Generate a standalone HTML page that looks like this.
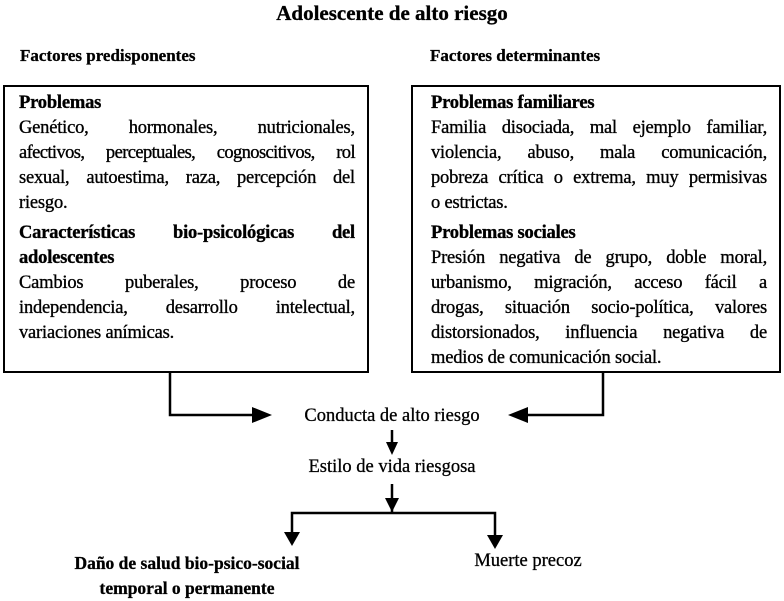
<!DOCTYPE html>
<html><head><meta charset="utf-8"><style>
body{margin:0;width:784px;height:601px;background:#fff;position:relative;font-family:"Liberation Serif",serif;color:#000;overflow:hidden}
.t{position:absolute;white-space:nowrap;-webkit-text-stroke:0.3px #000}
.b{font-weight:bold}
.box{position:absolute;border:2px solid #000;box-sizing:border-box;padding:4px 12px 0 14px;font-size:18.5px;line-height:25px;-webkit-text-stroke:0.35px #000;letter-spacing:-0.2px}
.box div{white-space:nowrap;text-align:justify;text-align-last:justify;height:25px}
.box div.l{text-align-last:left}
.h{font-weight:bold}
.gap{margin-top:5px}
</style></head><body>
<div class="t b" style="left:0;width:784px;text-align:center;top:1px;font-size:21px">Adolescente de alto riesgo</div>
<div class="t b" style="left:20px;top:46px;font-size:17px">Factores predisponentes</div>
<div class="t b" style="left:430px;top:46px;font-size:17px">Factores determinantes</div>
<div class="box" style="left:3px;top:85px;width:366px;height:288px">
<div class="h l">Problemas</div>
<div>Genético, hormonales, nutricionales,</div>
<div style="letter-spacing:-0.6px;word-spacing:-2px">afectivos, perceptuales, cognoscitivos, rol</div>
<div>sexual, autoestima, raza, percepción del</div>
<div class="l">riesgo.</div>
<div class="h gap">Características bio-psicológicas del</div>
<div class="h l">adolescentes</div>
<div>Cambios puberales, proceso de</div>
<div>independencia, desarrollo intelectual,</div>
<div class="l">variaciones anímicas.</div>
</div>
<div class="box" style="left:411px;top:85px;width:370px;height:288px;padding-left:18px">
<div class="h l">Problemas familiares</div>
<div>Familia disociada, mal ejemplo familiar,</div>
<div>violencia, abuso, mala comunicación,</div>
<div>pobreza crítica o extrema, muy permisivas</div>
<div class="l">o estrictas.</div>
<div class="h gap l">Problemas sociales</div>
<div>Presión negativa de grupo, doble moral,</div>
<div>urbanismo, migración, acceso fácil a</div>
<div>drogas, situación socio-política, valores</div>
<div>distorsionados, influencia negativa de</div>
<div class="l">medios de comunicación social.</div>
</div>
<svg width="784" height="601" style="position:absolute;left:0;top:0">
<g stroke="#000" stroke-width="2.5" fill="none">
<polyline points="170,373 170,415 255,415"/>
<polyline points="603,373 603,415 525,415"/>
<line x1="392" y1="430" x2="392" y2="445"/>
<line x1="392" y1="484" x2="392" y2="512"/>
<polyline points="292,540 292,513 495,513 495,545"/>
</g>
<g fill="#000">
<polygon points="252,407 272,415 252,423"/>
<polygon points="528,407 508,415 528,423"/>
<polygon points="386,442 392,455 398,442"/>
<polygon points="385,498 392,512 399,498"/>
<polygon points="284,532 292,546 300,532"/>
<polygon points="487,535 495,549 503,535"/>
</g>
</svg>
<div class="t" style="left:292px;width:200px;text-align:center;top:406px;font-size:18.5px">Conducta de alto riesgo</div>
<div class="t" style="left:292px;width:200px;text-align:center;top:457px;font-size:18.5px">Estilo de vida riesgosa</div>
<div class="t b" style="left:37px;width:300px;text-align:center;top:551px;font-size:17.5px;line-height:25px">Daño de salud bio-psico-social<br>temporal o permanente</div>
<div class="t" style="left:428px;width:200px;text-align:center;top:551px;font-size:18.5px">Muerte precoz</div>
</body></html>
